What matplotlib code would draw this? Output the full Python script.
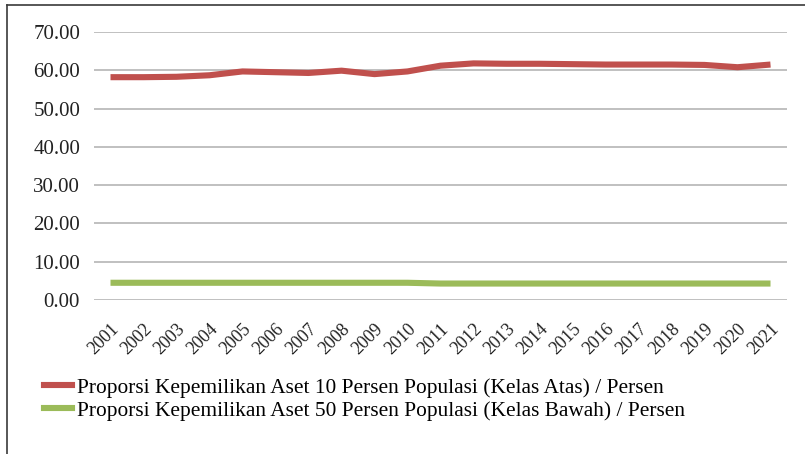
import matplotlib
matplotlib.use("Agg")
import matplotlib.pyplot as plt
from matplotlib.lines import Line2D

plt.rcParams['font.family'] = ['Liberation Serif', 'DejaVu Serif']

years = [str(y) for y in range(2001, 2022)]
atas_10 = [58.2, 58.2, 58.3, 58.7, 59.7, 59.5, 59.3, 59.9, 59.0, 59.7,
           61.2, 61.8, 61.7, 61.7, 61.6, 61.5, 61.5, 61.5, 61.4, 60.8, 61.5]
bawah_50 = [4.5, 4.5, 4.5, 4.5, 4.5, 4.5, 4.5, 4.5, 4.5, 4.5,
            4.3, 4.3, 4.3, 4.3, 4.3, 4.3, 4.3, 4.3, 4.3, 4.3, 4.3]
y_ticks = [0, 10, 20, 30, 40, 50, 60, 70]
labels = ["Proporsi Kepemilikan Aset 10 Persen Populasi (Kelas Atas) / Persen",
          "Proporsi Kepemilikan Aset 50 Persen Populasi (Kelas Bawah) / Persen"]

red = "#c0504d"
green = "#9bbb59"

fig = plt.figure(figsize=(8.05, 4.54), dpi=100)
ax = fig.add_axes([94 / 805, 1 - 300 / 454, (787 - 94) / 805, (300 - 32) / 454])

x = list(range(len(years)))
ax.plot(x, atas_10, color=red, lw=4.4, solid_capstyle='butt', label=labels[0], zorder=3)
ax.plot(x, bawah_50, color=green, lw=4.4, solid_capstyle='butt', label=labels[1], zorder=3)

ax.set_xlim(-0.5, len(years) - 0.5)
ax.set_ylim(0, 70)
ax.set_yticks(y_ticks)
ax.set_yticklabels([f"{v:.2f}" for v in y_ticks], fontsize=15, color="#222222")
ax.set_xticks(x)
ax.set_xticklabels(years, rotation=45, ha='right', va='top', fontsize=13,
                   color="#222222", rotation_mode='anchor')
ax.tick_params(axis='both', length=0)
ax.tick_params(axis='y', pad=10)
ax.tick_params(axis='x', pad=15)
ax.grid(axis='y', color="#c0c0c0", lw=1.4)
ax.set_axisbelow(True)
for s in ax.spines.values():
    s.set_visible(False)

handles = [Line2D([], [], color=red, lw=4.4), Line2D([], [], color=green, lw=4.4)]
fig.legend(handles, labels, loc='upper left', bbox_to_anchor=(44 / 805, 1 - 378 / 454),
           frameon=False, fontsize=15.4, handlelength=1.3, handletextpad=0.25,
           labelspacing=0.12, borderaxespad=0, borderpad=0)

# outer frame (left and top edges)
fig.add_artist(Line2D([7 / 805, 7 / 805], [0, 1 - 5 / 454], color="#3a3a3a", lw=1.2,
                      transform=fig.transFigure))
fig.add_artist(Line2D([7 / 805, 1], [1 - 5 / 454, 1 - 5 / 454], color="#3a3a3a", lw=1.2,
                      transform=fig.transFigure))

fig.savefig("out.png", dpi=100)
